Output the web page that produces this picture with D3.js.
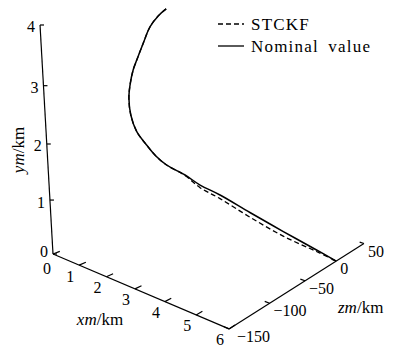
<!DOCTYPE html>
<html>
<head>
<meta charset="utf-8">
<script src="https://cdn.jsdelivr.net/npm/d3@7"></script>
<style>
  body { margin: 0; background: #fff; }
</style>
</head>
<body>
<div id="chart"></div>
<script>
// trajectory, km
const nominalX = [0.18, 0.24, 0.51, 0.71, 0.88, 0.96, 0.99, 1.10, 1.34, 1.61, 1.73, 1.89, 2.04, 2.34, 2.68, 3.12, 3.90, 4.80, 5.62, 6.00];
const nominalY = [4.10, 4.00, 3.85, 3.60, 3.35, 3.20, 2.95, 2.75, 2.50, 2.25, 2.00, 1.80, 1.62, 1.42, 1.25, 1.08, 0.82, 0.55, 0.25, 0.00];
const nominalZ = [-16.8, -28.5, -48.1, -63.1, -76.4, -83.3, -88.2, -93.2, -98.9, -101.0, -94.0, -88.6, -80.9, -68.6, -61.5, -51.4, -40.5, -29.4, -14.7, 0.0];

const stckfX = [0.18, 0.24, 0.51, 0.71, 0.88, 0.96, 0.99, 1.10, 1.34, 1.61, 1.73, 1.89, 2.04, 2.34, 2.68, 3.12, 3.90, 4.80, 5.62, 6.00];
const stckfY = [4.10, 4.00, 3.85, 3.60, 3.35, 3.20, 2.95, 2.75, 2.50, 2.25, 2.00, 1.80, 1.62, 1.41, 1.20, 1.01, 0.73, 0.46, 0.22, 0.00];
const stckfZ = [-16.8, -28.5, -48.1, -63.1, -76.4, -83.3, -88.2, -93.2, -98.9, -101.0, -94.0, -88.6, -80.9, -68.6, -61.5, -51.4, -40.5, -29.4, -14.7, 0.0];

const xTicks = [0, 1, 2, 3, 4, 5, 6];
const yTicks = [0, 1, 2, 3, 4];
const zTicks = [-150, -100, -50, 0, 50];

const width = 393, height = 349;
const serif = "'Liberation Serif', 'Times New Roman', 'DejaVu Serif', serif";

const svg = d3.select("#chart")
  .append("svg")
  .attr("width", width)
  .attr("height", height)
  .attr("font-family", serif);

// box coordinates 0..1 on each axis
const xScale = d3.scaleLinear().domain([0, 6]).range([0, 1]);
const yScale = d3.scaleLinear().domain([0, 4]).range([0, 1]);
const zScale = d3.scaleLinear().domain([-150, 50]).range([0, 1]);

// perspective camera (fitted to the axis box)
const cam = {
  den: [1, -0.1277, -0.0756, 0.2525],
  sx: [53, 146.76, -16.0, 209.6],
  sy: [254, 32.9, -230.9, -13.0]
};
function project(x, y, z) {
  const u = xScale(x), v = yScale(y), w = zScale(z);
  const d = cam.den[0] + cam.den[1] * u + cam.den[2] * v + cam.den[3] * w;
  return [
    (cam.sx[0] + cam.sx[1] * u + cam.sx[2] * v + cam.sx[3] * w) / d,
    (cam.sy[0] + cam.sy[1] * u + cam.sy[2] * v + cam.sy[3] * w) / d
  ];
}

const seg = (a, b) => "M" + a[0] + "," + a[1] + "L" + b[0] + "," + b[1];

const axes = svg.append("g")
  .attr("fill", "none")
  .attr("stroke", "#000")
  .attr("stroke-width", 1.2);

// y axis at x=0, z=-150
axes.append("path").attr("d", seg(project(0, 0, -150), project(0, 4, -150)));
// x axis at y=0, z=-150
axes.append("path").attr("d", seg(project(0, 0, -150), project(6, 0, -150)));
// z axis at x=6, y=0
axes.append("path").attr("d", seg(project(6, 0, -150), project(6, 0, 50)));

// ticks
yTicks.forEach(t => {
  const p = project(0, t, -150);
  axes.append("path").attr("d", seg(p, [p[0] + 4, p[1]]));
});
xTicks.forEach(t => {
  axes.append("path").attr("d", seg(project(t, 0, -150), project(t, 0, -143)));
});
zTicks.forEach(t => {
  axes.append("path").attr("d", seg(project(6, 0, t), project(5.85, 0, t)));
});

const fmt = d3.format("d");
const labels = svg.append("g").attr("font-size", 16).attr("fill", "#000");

yTicks.forEach(t => {
  const p = project(0, t, -150);
  labels.append("text")
    .attr("x", p[0] - 9).attr("y", p[1] + (t === 0 ? -3 : 2))
    .attr("text-anchor", "middle")
    .attr("dominant-baseline", "central")
    .text(fmt(t));
});
xTicks.forEach(t => {
  const p = project(t, 0, -150);
  labels.append("text")
    .attr("x", p[0] - (t === 0 ? 6 : 9)).attr("y", p[1] + (t === 0 ? 14 : 11))
    .attr("text-anchor", "middle")
    .attr("dominant-baseline", "central")
    .text(fmt(t));
});
zTicks.forEach(t => {
  const p = project(6, 0, t);
  labels.append("text")
    .attr("x", p[0] + (t === -150 ? 8 : 4)).attr("y", p[1] + 13)
    .text(fmt(t));
});

// axis titles
function axisTitle(g, italic, rest) {
  g.append("tspan").attr("font-style", "italic").text(italic);
  g.append("tspan").text(rest);
}
axisTitle(svg.append("text").attr("font-size", 17)
  .attr("text-anchor", "middle")
  .attr("transform", "translate(24,150) rotate(-90)"), "ym", "/km");
axisTitle(svg.append("text").attr("font-size", 17)
  .attr("text-anchor", "middle")
  .attr("x", 100).attr("y", 325), "xm", "/km");
axisTitle(svg.append("text").attr("font-size", 17)
  .attr("x", 338).attr("y", 313), "zm", "/km");

// trajectories
const line = d3.line().curve(d3.curveCatmullRom);
const nominal = nominalX.map((x, i) => project(x, nominalY[i], nominalZ[i]));
const stckf = stckfX.map((x, i) => project(x, stckfY[i], stckfZ[i]));

svg.append("path")
  .attr("d", line(nominal))
  .attr("fill", "none")
  .attr("stroke", "#000")
  .attr("stroke-width", 1.5);

svg.append("path")
  .attr("d", line(stckf))
  .attr("fill", "none")
  .attr("stroke", "#000")
  .attr("stroke-width", 1.3)
  .attr("stroke-dasharray", "5,3");

// legend
const legend = svg.append("g").attr("transform", "translate(218,0)");
const entries = [
  { name: "STCKF", dash: "5,3", y: 24 },
  { name: "Nominal value", dash: null, y: 46 }
];
entries.forEach(e => {
  legend.append("line")
    .attr("x1", 0).attr("x2", 26)
    .attr("y1", e.y).attr("y2", e.y)
    .attr("stroke", "#000")
    .attr("stroke-width", 1.3)
    .attr("stroke-dasharray", e.dash);
  legend.append("text")
    .attr("x", 33).attr("y", e.y)
    .attr("dominant-baseline", "central")
    .attr("font-size", 17)
    .attr("letter-spacing", 1.2)
    .attr("word-spacing", 4)
    .text(e.name);
});
</script>
</body>
</html>
